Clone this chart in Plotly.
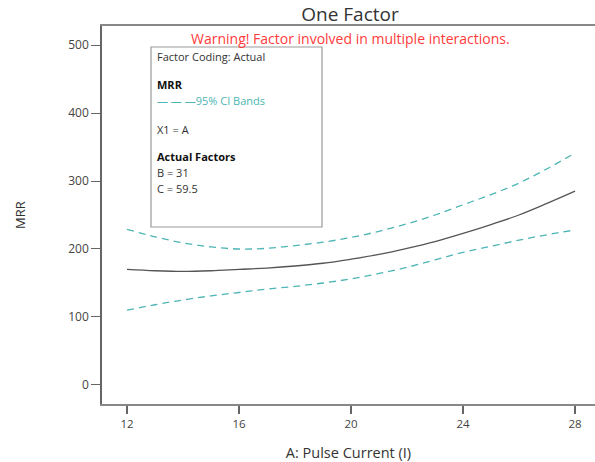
import plotly.graph_objects as go

pulse_current = [12, 13, 14, 15, 16, 17, 18, 19, 20, 21, 22, 23, 24, 25, 26, 27, 28]
mrr_mean = [170, 168, 167, 168, 170, 172, 175, 179, 185, 192, 201, 211, 223, 236, 250, 267, 285]
mrr_upper = [229, 218, 209, 203, 200, 201, 205, 210, 217, 226, 237, 250, 265, 280, 297, 318, 341]
mrr_lower = [110, 118, 125, 131, 136, 141, 145, 150, 156, 164, 173, 184, 195, 204, 213, 221, 228]

x_ticks = [12, 16, 20, 24, 28]
y_ticks = [0, 100, 200, 300, 400, 500]

FONT = "Open Sans"
TEAL = "#4DB5B5"

fig = go.Figure()
fig.add_trace(go.Scatter(x=pulse_current, y=mrr_upper, mode="lines",
                         line=dict(color=TEAL, width=1.3, dash="7px,5px"),
                         line_shape="spline", hoverinfo="skip"))
fig.add_trace(go.Scatter(x=pulse_current, y=mrr_lower, mode="lines",
                         line=dict(color=TEAL, width=1.3, dash="7px,5px"),
                         line_shape="spline", hoverinfo="skip"))
fig.add_trace(go.Scatter(x=pulse_current, y=mrr_mean, mode="lines",
                         line=dict(color="#555555", width=1.3),
                         line_shape="spline"))

W, H = 595, 462
L, R, T, B = 102, 0, 26, 58
pw, ph = W - L - R, H - T - B

def px(x):
    return (x - L) / pw

def py(y):
    return (H - B - y) / ph

fig.update_layout(
    width=W, height=H,
    margin=dict(l=L, r=R, t=T, b=B),
    plot_bgcolor="white", paper_bgcolor="white",
    showlegend=False,
    font=dict(family=FONT, color="#444444"),
    title=dict(text="One Factor", x=350 / W, xanchor="center",
               y=1 - 14 / H, yanchor="middle", yref="container",
               font=dict(size=19, color="#333333", family=FONT)),
    xaxis=dict(range=[11.107, 28.714], tickvals=x_ticks, ticks="outside",
               ticklen=8, tickwidth=1.5, tickcolor="#666666",
               showline=True, linecolor="#888888", linewidth=1.5, mirror=True,
               showgrid=False, zeroline=False,
               tickfont=dict(size=11.5, color="#444444"),
               title=dict(text="A: Pulse Current (I)", standoff=18,
                          font=dict(size=14.5, color="#333333"))),
    yaxis=dict(range=[-28, 528], tickvals=y_ticks, ticks="outside",
               ticklen=9, tickwidth=1, tickcolor="#666666",
               showline=True, linecolor="#666666", linewidth=1.5,
               showgrid=False, zeroline=False,
               tickfont=dict(size=12, color="#444444"),
               title=dict(text="MRR", standoff=40,
                          font=dict(size=13, color="#333333"))),
)

fig.add_shape(type="rect", xref="paper", yref="paper",
              x0=px(151), x1=px(322), y0=py(227), y1=py(47),
              line=dict(color="#999999", width=1.2), fillcolor="rgba(0,0,0,0)")

fig.add_annotation(text="Warning! Factor involved in multiple interactions.",
                   xref="paper", yref="paper", x=px(350), y=py(38),
                   xanchor="center", yanchor="middle", showarrow=False,
                   font=dict(size=14, color="#FF3B3B", family=FONT))

lines = [
    ("Factor Coding: Actual", 56, "#333333", False),
    ("MRR", 84, "#111111", True),
    ("— — —95% CI Bands", 100, TEAL, False),
    ("X1 = A", 129, "#333333", False),
    ("Actual Factors", 157, "#111111", True),
    ("B = 31", 173, "#333333", False),
    ("C = 59.5", 188, "#333333", False),
]
for txt, yy, col, bold in lines:
    fig.add_annotation(text=f"<b>{txt}</b>" if bold else txt,
                       xref="paper", yref="paper", x=px(155), y=py(yy),
                       xanchor="left", yanchor="middle", showarrow=False,
                       font=dict(size=11, color=col, family=FONT))

fig.write_html("out.html", config={"displayModeBar": False},
               post_script="document.body.style.margin='0';document.body.style.overflow='hidden';")
